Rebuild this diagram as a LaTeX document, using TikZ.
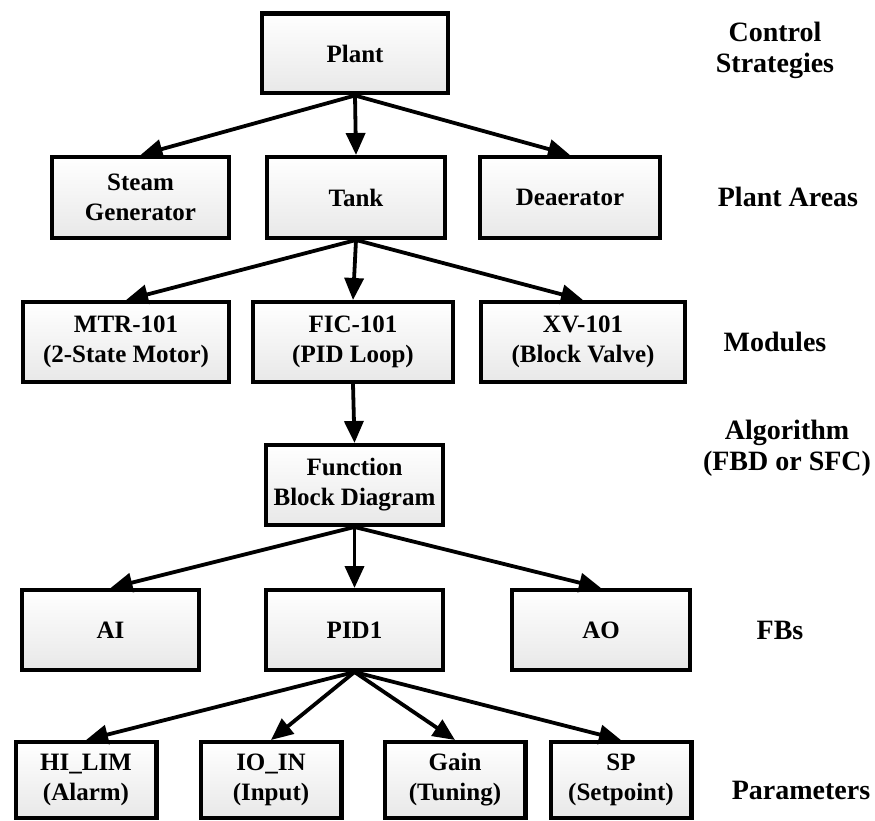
\documentclass[tikz,border=0pt]{standalone}
\usepackage{fontspec}
\setmainfont{Liberation Serif}
\usetikzlibrary{arrows.meta,shadows}
\begin{document}
\begin{tikzpicture}[x=1pt,y=-1pt,
  box/.style={draw=black, line width=4.2pt, top color=white, bottom color=black!9,
    minimum height=79.8pt, inner sep=0pt, align=center,
    font=\fontsize{25}{30}\selectfont\bfseries,
    drop shadow={shadow xshift=2pt, shadow yshift=-2pt, fill=black, opacity=0.18}},
  smallbox/.style={box, minimum height=75.8pt, minimum width=140.8pt},
  tag/.style={align=center, font=\fontsize{28}{31}\selectfont\bfseries},
  link/.style={line width=3.8pt, -{Triangle[length=22pt,width=19pt]}}
]
\useasboundingbox (0,0) rectangle (875,821);

% level 1
\node[box, minimum width=185.8pt] (plant) at (355,53.5) {Plant};
% level 2
\node[box, minimum width=176.8pt, minimum height=80.8pt] (steam) at (140.5,197.5) {Steam\\Generator};
\node[box, minimum width=177.8pt, minimum height=80.8pt] (tank)  at (356,197.5) {Tank};
\node[box, minimum width=179.8pt, minimum height=80.8pt] (deaer) at (570,197.5) {Deaerator};
% level 3
\node[box, minimum width=205.8pt] (mtr) at (126,342) {MTR-101\\(2-State Motor)};
\node[box, minimum width=199.8pt] (fic) at (353,342) {FIC-101\\(PID Loop)};
\node[box, minimum width=203.8pt] (xv)  at (583,342) {XV-101\\(Block Valve)};
% level 4
\node[box, minimum width=176.8pt] (fbd) at (354.5,485) {Function\\Block Diagram};
% level 5
\node[box, minimum width=176.8pt] (ai)   at (110.5,630) {AI};
\node[box, minimum width=176.8pt] (pid)  at (354.5,630) {PID1};
\node[box, minimum width=177.8pt] (ao)   at (601,630) {AO};
% level 6
\node[smallbox] (hilim) at (86,780) {HI\_LIM\\(Alarm)};
\node[smallbox] (ioin)  at (271,780) {IO\_IN\\(Input)};
\node[smallbox] (gain)  at (455,780) {Gain\\(Tuning)};
\node[smallbox] (sp)    at (621,780) {SP\\(Setpoint)};

% level captions
\node[tag] (capcs)  at (775,50)  {Control\\Strategies};
\node[tag] (capar)  at (788,197) {Plant Areas};
\node[tag] (capmod) at (775,342) {Modules};
\node[tag] (capalg) at (787,448) {Algorithm\\(FBD or SFC)};
\node[tag] (capfb)  at (780,630) {FBs};
\node[tag] (cappar) at (801,790) {Parameters};

% connectors
\foreach \child in {steam,tank,deaer} \draw[link] (plant.south) -- (\child.north);
\foreach \child in {mtr,fic,xv} \draw[link] (tank.south) -- (\child.north);
\draw[link] (fic.south) -- (fbd.north);
\foreach \child in {ai,pid,ao} \draw[link] (fbd.south) -- (\child.north);
\foreach \child in {hilim,ioin,gain,sp} \draw[link] (pid.south) -- (\child.north);
\end{tikzpicture}
\end{document}
